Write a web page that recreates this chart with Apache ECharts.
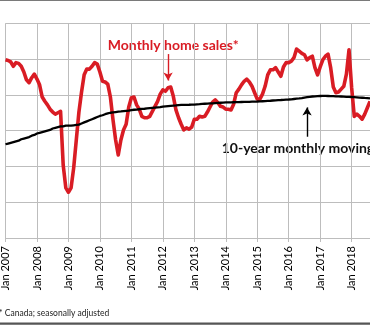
<!DOCTYPE html>
<html>
<head>
<meta charset="utf-8">
<script src="https://cdn.jsdelivr.net/npm/echarts@6/dist/echarts.min.js"></script>
<style>
html,body{margin:0;padding:0;background:#fff;}
#chart{width:370px;height:326px;}
</style>
</head>
<body>
<div id="chart"></div>
<script>
// Tick labels / categories (monthly, Jan 2007 .. Aug 2018)
var years = ['2007','2008','2009','2010','2011','2012','2013','2014','2015','2016','2017','2018'];
var monthNames = ['Jan','Feb','Mar','Apr','May','Jun','Jul','Aug','Sep','Oct','Nov','Dec'];
var categories = [];
years.forEach(function (y) {
  monthNames.forEach(function (m) { categories.push(m + ' ' + y); });
});
categories = categories.slice(0, 140);

// Monthly home sales (seasonally adjusted, Canada)
var monthlySales = [
  44900, 44800, 44600, 44000, 44500, 44400, 44000, 43200, 42100, 41700, 42400, 42900,
  42200, 41400, 39700, 39100, 38600, 38000, 37600, 37300, 37500, 37700, 30200, 27000,
  26400, 27000, 29800, 33700, 37600, 40400, 42800, 43600, 43600, 44000, 44500, 44300,
  43200, 41900, 41800, 41500, 39700, 36500, 33700, 31600, 33700, 35100, 35900, 38300,
  39600, 39700, 38600, 38000, 37000, 36800, 36800, 37000, 37700, 38400, 39100, 40100,
  40700, 40500, 41000, 41100, 39800, 37900, 36800, 35900, 35100, 35400, 35200, 35500,
  36600, 36600, 37000, 36900, 37000, 37600, 38300, 39000, 39300, 38900, 38400, 38300,
  38000, 38000, 37900, 38700, 40300, 40800, 41400, 41900, 42200, 41800, 41200, 40300,
  39400, 39400, 40100, 41200, 42800, 43500, 43500, 43800, 43200, 42600, 43900, 44500,
  44500, 44700, 45200, 46400, 46100, 45800, 45600, 44900, 45200, 45400, 43800, 42800,
  43900, 44900, 45400, 45700, 43800, 41100, 40300, 40400, 40800, 41200, 42900, 46300,
  41000, 37000, 37300, 37000, 36600, 37300, 38200, 39100
];

// 10-year monthly moving average
var movingAverage = [
  33100, 33200, 33300, 33400, 33500, 33600, 33800, 33900, 34000, 34100, 34300, 34400,
  34600, 34700, 34800, 34900, 35000, 35100, 35300, 35400, 35500, 35600, 35600, 35700,
  35700, 35700, 35750, 35800, 35850, 36000, 36150, 36300, 36450, 36600, 36750, 36900,
  37050, 37150, 37300, 37400, 37500, 37550, 37600, 37650, 37680, 37720, 37760, 37800,
  37880, 37920, 37950, 37990, 38030, 38060, 38100, 38140, 38180, 38220, 38260, 38300,
  38370, 38400, 38430, 38460, 38490, 38520, 38580, 38590, 38600, 38610, 38620, 38640,
  38650, 38680, 38700, 38730, 38760, 38780, 38800, 38820, 38850, 38880, 38900, 38920,
  38940, 38950, 38960, 38970, 38980, 38990, 39000, 39010, 39020, 39030, 39050, 39060,
  39070, 39090, 39110, 39130, 39160, 39180, 39210, 39230, 39260, 39280, 39310, 39330,
  39350, 39380, 39420, 39460, 39500, 39560, 39630, 39680, 39730, 39770, 39800, 39830,
  39840, 39850, 39850, 39840, 39830, 39820, 39800, 39790, 39770, 39750, 39730, 39710,
  39700, 39680, 39650, 39620, 39600, 39570, 39550, 39520
];

// Annotation arrow endpoints (category, value)
var salesArrow = [[categories[62], 45700], [categories[62], 42000]];
var avgArrow = [[categories[115], 34150], [categories[115], 38250]];

var FONT = 'Lato, "Open Sans", "Liberation Sans", sans-serif';
var GRID = '#bdbdbd';
function yearStart(i) { return i % 12 === 0; }

var chart = echarts.init(document.getElementById('chart'), null, {renderer: 'canvas'});
chart.setOption({
  animation: false,
  backgroundColor: '#ffffff',
  grid: {left: 3.3, right: 0, top: 23.3, bottom: 88, containLabel: false},
  xAxis: {
    type: 'category',
    data: categories,
    boundaryGap: false,
    axisLine: {show: true, lineStyle: {color: GRID, width: 1}},
    axisTick: {show: true, length: 4, interval: yearStart, lineStyle: {color: GRID}},
    axisLabel: {
      interval: yearStart, rotate: 90, margin: 8,
      fontFamily: FONT, fontSize: 11, color: '#000'
    },
    splitLine: {show: true, interval: yearStart, lineStyle: {color: GRID, width: 1}}
  },
  yAxis: {
    type: 'value',
    min: 20000, max: 50000, interval: 5000,
    axisLine: {show: false},
    axisTick: {show: false},
    axisLabel: {show: false},
    splitLine: {show: true, lineStyle: {color: GRID, width: 1}}
  },
  series: [
    {
      name: 'Monthly home sales*',
      type: 'line',
      data: monthlySales,
      symbol: 'none',
      z: 2,
      lineStyle: {color: '#d91c24', width: 3.6, join: 'round'},
      markLine: {
        silent: true, animation: false,
        symbol: ['none', 'arrow'], symbolSize: [7, 8],
        label: {show: false},
        lineStyle: {color: '#d91c24', width: 1.4, type: 'solid'},
        data: [[{coord: salesArrow[0]}, {coord: salesArrow[1]}]]
      }
    },
    {
      name: '10-year monthly moving average',
      type: 'line',
      data: movingAverage,
      symbol: 'none',
      z: 3,
      lineStyle: {color: '#000000', width: 2.3},
      markLine: {
        silent: true, animation: false,
        symbol: ['none', 'arrow'], symbolSize: [7, 8],
        label: {show: false},
        lineStyle: {color: '#000000', width: 1.4, type: 'solid'},
        data: [[{coord: avgArrow[0]}, {coord: avgArrow[1]}]]
      }
    }
  ],
  graphic: [
    {type: 'rect', left: 0, top: 0, shape: {width: 370, height: 1}, style: {fill: '#7a7a7a'}, silent: true},
    {type: 'rect', left: 0, top: 322.5, shape: {width: 370, height: 2.2}, style: {fill: '#555555'}, silent: true},
    {type: 'text', x: 173.3, y: 45.5, silent: true,
      style: {text: 'Monthly home sales*', fill: '#d91c24', font: 'bold 14px ' + FONT, textAlign: 'center', textVerticalAlign: 'middle'}},
    {type: 'text', x: 221.7, y: 148.3, silent: true,
      style: {text: '10-year monthly moving average', fill: '#111111', font: 'bold 14px ' + FONT, textAlign: 'left', textVerticalAlign: 'middle'}},
    {type: 'text', x: -1, y: 313.5, silent: true,
      style: {text: '* Canada; seasonally adjusted', fill: '#222222', font: '8.5px ' + FONT, textAlign: 'left', textVerticalAlign: 'middle'}}
  ]
});
</script>
</body>
</html>
